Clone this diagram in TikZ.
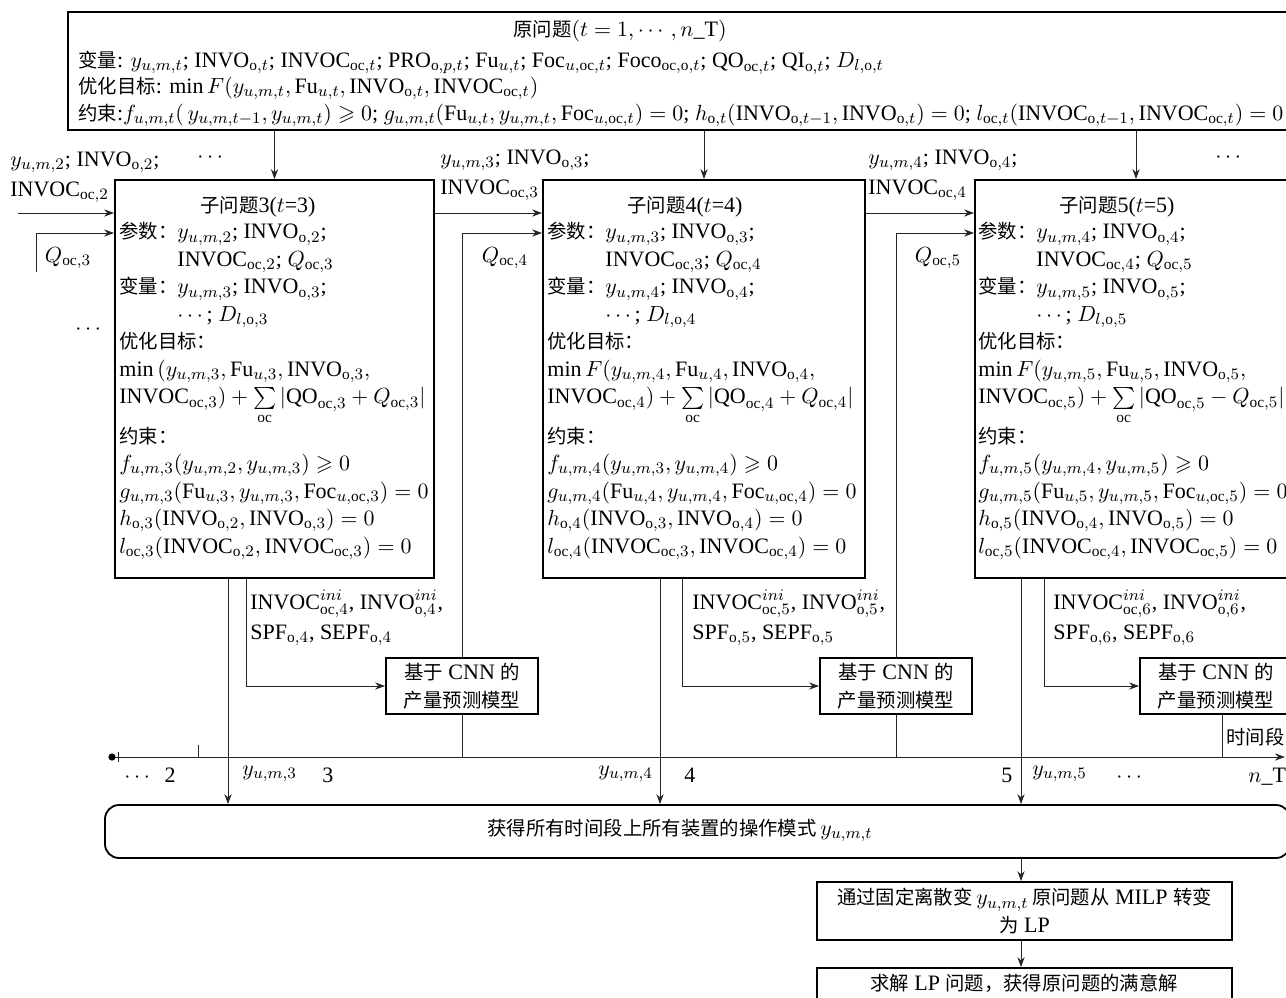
\documentclass[tikz,border=0pt]{standalone}
\usepackage{amsmath,amssymb}
\usepackage{fontspec}
\setmainfont{Liberation Serif}
\newfontfamily\cjkfont[Scale=0.88]{Noto Sans CJK SC}
\newcommand{\zh}[1]{{\cjkfont #1}}
\newcommand{\INVO}{\mathrm{INVO}}
\newcommand{\INVOC}{\mathrm{INVOC}}
\newcommand{\Fu}{\mathrm{Fu}}
\newcommand{\Foc}{\mathrm{Foc}}
\newcommand{\QO}{\mathrm{QO}}
\newcommand{\ro}{\mathrm{o}}
\newcommand{\roc}{\mathrm{oc}}
\usetikzlibrary{arrows.meta,fit}

\begin{document}
\begin{tikzpicture}[x=0.5pt,y=-0.5pt,
  every node/.style={inner sep=0pt,font=\fontsize{11}{13.75}\selectfont},
  box/.style={draw,line width=0.9pt,fill=white},
  cnn/.style={box,align=center,minimum width=76pt,minimum height=28pt},
  line/.style={line width=0.5pt,draw=black!85},
  arr/.style={line,-{Stealth[length=5pt,width=3.6pt]}},
  lbl/.style={anchor=base west},
  body/.style={anchor=north west,align=left}]
  \useasboundingbox (0,0) rectangle (1286,997);
  \clip (0,0) rectangle (1286,997);

  % original problem
  \node[box,fit={(68,12) (1295,130)}] (orig) {};
  \node[anchor=base] (origt) at (620,36) {\zh{原问题}$(t=1,\cdots\,,n$\_T$)$};
  \node[lbl] (origv) at (78,67) {\zh{变量}: $y_{u,m,t}$; $\INVO_{\ro,t}$; $\INVOC_{\roc,t}$; $\mathrm{PRO}_{\ro,p,t}$; $\Fu_{u,t}$; $\Foc_{u,\roc,t}$; $\mathrm{Foco}_{\roc,\ro,t}$; $\QO_{\roc,t}$; $\mathrm{QI}_{\ro,t}$; $D_{l,\ro,t}$};
  \node[lbl] (origo) at (78,93) {\zh{优化目标}: $\min F(y_{u,m,t}, \Fu_{u,t}, \INVO_{\ro,t}, \INVOC_{\roc,t})$};
  \node[lbl] (origc) at (78,120) {\zh{约束}:$f_{u,m,t}(\,y_{u,m,t-1}, y_{u,m,t}) \geqslant 0$; $g_{u,m,t}(\Fu_{u,t}, y_{u,m,t}, \Foc_{u,\roc,t}) = 0$; $h_{\ro,t}(\INVO_{\ro,t-1}, \INVO_{\ro,t}) = 0$; $l_{\roc,t}(\INVOC_{\ro,t-1}, \INVOC_{\roc,t}) = 0$};

  % sub problems
  \node[box,fit={(115,180) (434,578)}] (sub3) {};
  \node[box,fit={(543,180) (865,578)}] (sub4) {};
  \node[box,fit={(975,180) (1297,578)}] (sub5) {};
  \node[anchor=base] (sub3t) at (258,212) {\zh{子问题}3($t$=3)};
  \node[anchor=base] (sub4t) at (685,212) {\zh{子问题}4($t$=4)};
  \node[anchor=base] (sub5t) at (1117,212) {\zh{子问题}5($t$=5)};
  \node[body] (sub3c) at (119,222) {\zh{参数：}$y_{u,m,2}$; $\INVO_{\ro,2}$;\\
    \hphantom{\zh{参数：}}$\INVOC_{\roc,2}$; $Q_{\roc,3}$\\
    \zh{变量：}$y_{u,m,3}$; $\INVO_{\ro,3}$;\\
    \hphantom{\zh{变量：}}$\cdots$; $D_{l,\ro,3}$\\
    \zh{优化目标：}\\
    $\min\,(y_{u,m,3}, \Fu_{u,3}, \INVO_{\ro,3},$\\
    $\INVOC_{\roc,3}) +\sum\limits_{\roc}|\QO_{\roc,3} + Q_{\roc,3}|$\\
    \zh{约束：}\\
    $f_{u,m,3}(y_{u,m,2}, y_{u,m,3}) \geqslant 0$\\
    $g_{u,m,3}(\Fu_{u,3}, y_{u,m,3}, \Foc_{u,\roc,3}) = 0$\\
    $h_{\ro,3}(\INVO_{\ro,2}, \INVO_{\ro,3}) = 0$\\
    $l_{\roc,3}(\INVOC_{\ro,2}, \INVOC_{\roc,3}) = 0$};
  \node[body] (sub4c) at (547,222) {\zh{参数：}$y_{u,m,3}$; $\INVO_{\ro,3}$;\\
    \hphantom{\zh{参数：}}$\INVOC_{\roc,3}$; $Q_{\roc,4}$\\
    \zh{变量：}$y_{u,m,4}$; $\INVO_{\ro,4}$;\\
    \hphantom{\zh{变量：}}$\cdots$; $D_{l,\ro,4}$\\
    \zh{优化目标：}\\
    $\min F(y_{u,m,4}, \Fu_{u,4}, \INVO_{\ro,4},$\\
    $\INVOC_{\roc,4}) +\sum\limits_{\roc}|\QO_{\roc,4} + Q_{\roc,4}|$\\
    \zh{约束：}\\
    $f_{u,m,4}(y_{u,m,3}, y_{u,m,4}) \geqslant 0$\\
    $g_{u,m,4}(\Fu_{u,4}, y_{u,m,4}, \Foc_{u,\roc,4}) = 0$\\
    $h_{\ro,4}(\INVO_{\ro,3}, \INVO_{\ro,4}) = 0$\\
    $l_{\roc,4}(\INVOC_{\roc,3}, \INVOC_{\roc,4}) = 0$};
  \node[body] (sub5c) at (978,222) {\zh{参数：}$y_{u,m,4}$; $\INVO_{\ro,4}$;\\
    \hphantom{\zh{参数：}}$\INVOC_{\roc,4}$; $Q_{\roc,5}$\\
    \zh{变量：}$y_{u,m,5}$; $\INVO_{\ro,5}$;\\
    \hphantom{\zh{变量：}}$\cdots$; $D_{l,\ro,5}$\\
    \zh{优化目标：}\\
    $\min F(y_{u,m,5}, \Fu_{u,5}, \INVO_{\ro,5},$\\
    $\INVOC_{\roc,5}) +\sum\limits_{\roc}|\QO_{\roc,5} - Q_{\roc,5}|$\\
    \zh{约束：}\\
    $f_{u,m,5}(y_{u,m,4}, y_{u,m,5}) \geqslant 0$\\
    $g_{u,m,5}(\Fu_{u,5}, y_{u,m,5}, \Foc_{u,\roc,5}) = 0$\\
    $h_{\ro,5}(\INVO_{\ro,4}, \INVO_{\ro,5}) = 0$\\
    $l_{\roc,5}(\INVOC_{\roc,4}, \INVOC_{\roc,5}) = 0$};

  % inputs between sub problems
  \node[lbl] (in3a) at (10,166) {$y_{u,m,2}$; $\INVO_{\ro,2}$;};
  \node[lbl] (in3b) at (10,196) {$\INVOC_{\roc,2}$};
  \node[lbl] (in4a) at (440,164) {$y_{u,m,3}$; $\INVO_{\ro,3}$;};
  \node[lbl] (in4b) at (440,194) {$\INVOC_{\roc,3}$};
  \node[lbl] (in5a) at (868,164) {$y_{u,m,4}$; $\INVO_{\ro,4}$;};
  \node[lbl] (in5b) at (868,194) {$\INVOC_{\roc,4}$};
  \node (dots1) at (212,158) {$\cdots$};
  \node (dots2) at (1230,158) {$\cdots$};
  \node (dots3) at (90,330) {$\cdots$};
  \node (q3) at (68,258) {$Q_{\roc,3}$};
  \node (q4) at (505,258) {$Q_{\roc,4}$};
  \node (q5) at (938,258) {$Q_{\roc,5}$};

  \draw[arr] (orig.south -| sub3.north) -- (sub3.north);
  \draw[arr] (orig.south -| sub4.north) -- (sub4.north);
  \draw[arr] (orig.south -| sub5.north) -- (sub5.north);
  \coordinate (d3) at (18,213);
  \coordinate (q3s) at (36,272);
  \draw[arr] (d3) -- (sub3.west |- d3);
  \draw[arr] (q3s) |- (sub3.west |- 0,233);
  \draw[arr] (sub3.east |- d3) -- (sub4.west |- d3);
  \draw[arr] (sub4.east |- d3) -- (sub5.west |- d3);

  % CNN models
  \node[cnn] (cnn3) at (462,686) {\zh{基于} CNN \zh{的}\\\zh{产量预测模型}};
  \node[cnn] (cnn4) at (896,686) {\zh{基于} CNN \zh{的}\\\zh{产量预测模型}};
  \node[cnn] (cnn5) at (1216,686) {\zh{基于} CNN \zh{的}\\\zh{产量预测模型}};
  \node[lbl] (ini4) at (250,609) {$\INVOC^{ini}_{\roc,4}$, $\INVO^{ini}_{\ro,4}$,};
  \node[lbl] (spf4) at (250,639) {$\mathrm{SPF}_{\ro,4}$, $\mathrm{SEPF}_{\ro,4}$};
  \node[lbl] (ini5) at (692,609) {$\INVOC^{ini}_{\roc,5}$, $\INVO^{ini}_{\ro,5}$,};
  \node[lbl] (spf5) at (692,639) {$\mathrm{SPF}_{\ro,5}$, $\mathrm{SEPF}_{\ro,5}$};
  \node[lbl] (ini6) at (1053,609) {$\INVOC^{ini}_{\roc,6}$, $\INVO^{ini}_{\ro,6}$,};
  \node[lbl] (spf6) at (1053,639) {$\mathrm{SPF}_{\ro,6}$, $\mathrm{SEPF}_{\ro,6}$};

  % time axis
  \coordinate (t0) at (112,757);
  \coordinate (tn) at (1285,757);
  \draw[arr] (t0) -- (tn);
  \fill (t0) circle (1.8pt);
  \draw[line] (118,752) -- (118,762);
  \draw[line] (198,745) -- (198,757);
  \node[lbl] (time) at (1226,744) {\zh{时间段}};
  \node[lbl] (ax2) at (124,782) {$\cdots$\ \ 2};
  \node[lbl] (ax3) at (322,782) {3};
  \node[lbl] (ax4) at (684,782) {4};
  \node[lbl] (ax5) at (1001,782) {5};
  \node[lbl] (axd) at (1116,782) {$\cdots$};
  \node[lbl] (axn) at (1248,782) {$n$\_T};
  \node[lbl] (y3) at (242,775) {$y_{u,m,3}$};
  \node[lbl] (y4) at (598,775) {$y_{u,m,4}$};
  \node[lbl] (y5) at (1032,775) {$y_{u,m,5}$};

  % result boxes
  \node[box,rounded corners=7pt,fit={(105,805) (1290,858)}] (res) {};
  \node (rest) at (680,830) {\zh{获得所有时间段上所有装置的操作模式}\,$y_{u,m,t}$};
  \node[box,fit={(817,882) (1232,940)}] (fix) {};
  \node[align=center] (fixt) at (fix.center) {\zh{通过固定离散变}\,$y_{u,m,t}$\,\zh{原问题从} MILP \zh{转变}\\\zh{为} LP};
  \node[box,fit={(817,968) (1232,1004)}] (solve) {};
  \node (solvet) at (1024,983) {\zh{求解} LP \zh{问题，获得原问题的满意解}};

  % links down to the models and the result
  \draw[arr] (sub3.south -| 228,0) -- (res.north -| 228,0);
  \draw[arr] (sub3.south -| 246,0) |- (cnn3.west);
  \draw[arr] (cnn3.north) |- (sub4.west |- 0,233);
  \draw[line] (cnn3.south) -- (cnn3.south |- t0);
  \draw[arr] (sub4.south -| 660,0) -- (res.north -| 660,0);
  \draw[arr] (sub4.south -| 682,0) |- (cnn4.west);
  \draw[arr] (cnn4.north) |- (sub5.west |- 0,233);
  \draw[line] (cnn4.south) -- (cnn4.south |- t0);
  \draw[arr] (sub5.south -| 1021,0) -- (res.north -| 1021,0);
  \draw[arr] (sub5.south -| 1044,0) |- (cnn5.west);
  \draw[line] (cnn5.south -| 1222,0) -- (t0 -| 1222,0);
  \draw[arr] (res.south -| 1021,0) -- (fix.north -| 1021,0);
  \draw[arr] (fix.south -| 1021,0) -- (solve.north -| 1021,0);
\end{tikzpicture}
\end{document}
